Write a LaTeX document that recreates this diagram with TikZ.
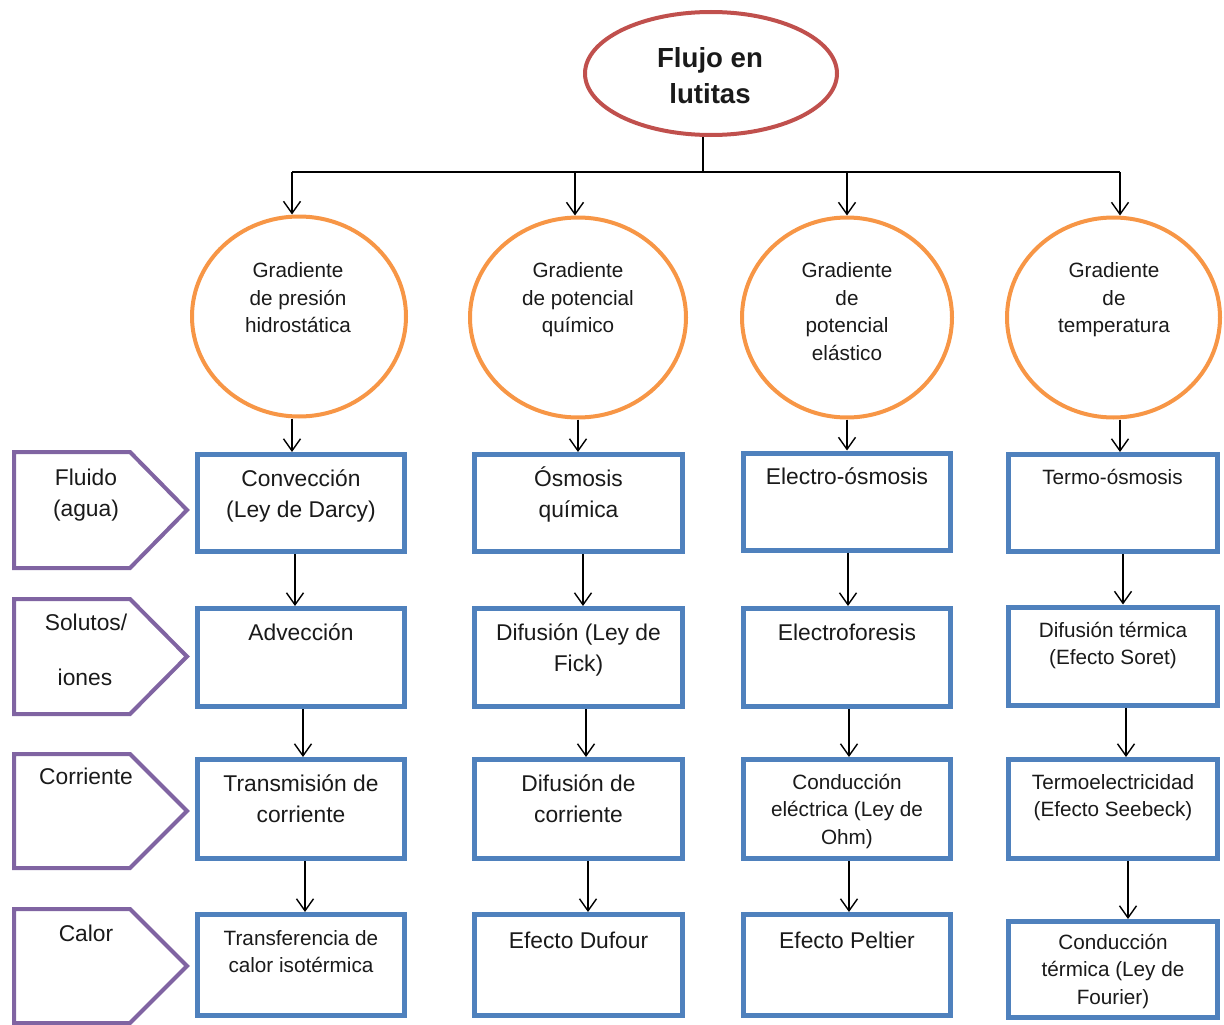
\documentclass[tikz,border=0pt]{standalone}
\usepackage{fontspec}
\setmainfont{Liberation Sans}
\usetikzlibrary{arrows.meta,shapes.geometric}
\definecolor{tred}{HTML}{C0504D}
\definecolor{torange}{HTML}{F79646}
\definecolor{tblue}{HTML}{4F81BD}
\definecolor{tpurple}{HTML}{8064A2}
\definecolor{ttext}{HTML}{1A1A1A}
\newcommand\vlink[3]{\draw[arr] ([xshift=#3]#1.south) -- ([xshift=#3]#1.south |- #2.north);}
\begin{document}
\begin{tikzpicture}[x=1pt,y=-1pt,
  conn/.style={line width=1.4pt, draw=black},
  arr/.style={conn, -{Straight Barb[length=12pt,width=17pt,line width=1.4pt]}},
  bx/.style={rectangle, draw=tblue, line width=5pt, inner sep=0pt, fill=white},
  grad/.style={ellipse, draw=torange, line width=4pt, inner sep=0pt, minimum height=200pt},
  lbl/.style={draw=tpurple, line width=4pt, line join=miter},
  txt/.style={inner sep=0pt, anchor=base, align=center, text=ttext},
  big/.style={txt, font=\fontsize{22.8}{31}\selectfont},
  small/.style={txt, font=\fontsize{20.7}{27.7}\selectfont},
  ttl/.style={txt, font=\fontsize{27.6}{36}\selectfont\bfseries}]
\useasboundingbox (0,0) rectangle (1224,1025);
% note: for multi-line texts the base anchor is the last line's baseline

% title
\node[ellipse, draw=tred, line width=4pt, inner sep=0pt, minimum width=252pt, minimum height=123pt] (title) at (711,73.5) {};
\node[ttl] (titlet) at (710,103) {Flujo en\\lutitas};

% gradient circles
\node[grad, minimum width=214pt] (g1) at (299,316.5) {};
\node[grad, minimum width=216pt] (g2) at (578,317.5) {};
\node[grad, minimum width=210pt] (g3) at (847,317.5) {};
\node[grad, minimum width=213pt] (g4) at (1113.5,317.5) {};
\node[small] (g1t) at (298,332.9) {Gradiente\\de presión\\hidrostática};
\node[small] (g2t) at (578,332.9) {Gradiente\\de potencial\\químico};
\node[small] (g3t) at (847,360.6) {Gradiente\\de\\potencial\\elástico};
\node[small] (g4t) at (1114,332.9) {Gradiente\\de\\temperatura};

% tree from title
\coordinate (jn) at (703,172);
\coordinate (h1) at (292,172);
\coordinate (h2) at (575,172);
\coordinate (h3) at (847,172);
\coordinate (h4) at (1120,172);
\draw[conn] (jn |- title.south) -- (jn);
\draw[conn] (h1) -- (h4);
\draw[arr] (h1) -- (h1 |- g1.north);
\draw[arr] (h2) -- (h2 |- g2.north);
\draw[arr] (h3) -- (h3 |- g3.north);
\draw[arr] (h4) -- (h4 |- g4.north);

% boxes row 1
\node[bx, minimum width=207pt, minimum height=97pt] (b11) at (301,503) {};
\node[bx, minimum width=208pt, minimum height=97pt] (b21) at (578.5,503) {};
\node[bx, minimum width=207pt, minimum height=97pt] (b31) at (847,501.5) {};
\node[bx, minimum width=209pt, minimum height=97pt] (b41) at (1113,503) {};
% row 2
\node[bx, minimum width=207pt, minimum height=98pt] (b12) at (301,657.5) {};
\node[bx, minimum width=208pt, minimum height=98pt] (b22) at (578.5,657.5) {};
\node[bx, minimum width=207pt, minimum height=98pt] (b32) at (847,657.5) {};
\node[bx, minimum width=209pt, minimum height=98pt] (b42) at (1113,656) {};
% row 3
\node[bx, minimum width=207pt, minimum height=99pt] (b13) at (301,809) {};
\node[bx, minimum width=208pt, minimum height=99pt] (b23) at (578.5,809) {};
\node[bx, minimum width=207pt, minimum height=99pt] (b33) at (847,809) {};
\node[bx, minimum width=209pt, minimum height=99pt] (b43) at (1113,809) {};
% row 4
\node[bx, minimum width=207pt, minimum height=101pt] (b14) at (301,965) {};
\node[bx, minimum width=208pt, minimum height=101pt] (b24) at (578.5,965) {};
\node[bx, minimum width=207pt, minimum height=101pt] (b34) at (847,965) {};
\node[bx, minimum width=209pt, minimum height=96pt] (b44) at (1113,969.5) {};

% box texts
\node[big]   (t11) at (301,517) {Convección\\(Ley de Darcy)};
\node[big]   (t21) at (578.5,517) {Ósmosis\\química};
\node[big]   (t31) at (847,484) {Electro-ósmosis};
\node[small] (t41) at (1112.5,484) {Termo-ósmosis};
\node[big]   (t12) at (301,640) {Advección};
\node[big]   (t22) at (578.5,671) {Difusión (Ley de\\Fick)};
\node[big]   (t32) at (847,640) {Electroforesis};
\node[small] (t42) at (1113,664.7) {Difusión térmica\\(Efecto Soret)};
\node[big]   (t13) at (301,822) {Transmisión de\\corriente};
\node[big]   (t23) at (578.5,822) {Difusión de\\corriente};
\node[small] (t33) at (847,844.4) {Conducción\\eléctrica (Ley de\\Ohm)};
\node[small] (t43) at (1113,816.7) {Termoelectricidad\\(Efecto Seebeck)};
\node[small] (t14) at (301,972.7) {Transferencia de\\calor isotérmica};
\node[big]   (t24) at (578.5,948) {Efecto Dufour};
\node[big]   (t34) at (847,948) {Efecto Peltier};
\node[small] (t44) at (1113,1004.4) {Conducción\\térmica (Ley de\\Fourier)};

% arrows circle -> box
\vlink{g1}{b11}{-7pt}
\vlink{g2}{b21}{0pt}
\vlink{g3}{b31}{0pt}
\vlink{g4}{b41}{6.5pt}
% arrows box -> box
\vlink{b11}{b12}{-6pt}
\vlink{b12}{b13}{2pt}
\vlink{b13}{b14}{4pt}
\vlink{b21}{b22}{4.5pt}
\vlink{b22}{b23}{7.5pt}
\vlink{b23}{b24}{9.5pt}
\vlink{b31}{b32}{1pt}
\vlink{b32}{b33}{2pt}
\vlink{b33}{b34}{2pt}
\vlink{b41}{b42}{10pt}
\vlink{b42}{b43}{13pt}
\vlink{b43}{b44}{15pt}

% side labels (pentagons)
\draw[lbl] (14,452) -- (130,452) -- (187,510) -- (130,568) -- (14,568) -- cycle;
\draw[lbl] (14,599) -- (130,599) -- (187,656.5) -- (130,714) -- (14,714) -- cycle;
\draw[lbl] (14,754) -- (130,754) -- (187,811) -- (130,868) -- (14,868) -- cycle;
\draw[lbl] (14,909) -- (130,909) -- (187,966) -- (130,1023) -- (14,1023) -- cycle;
\node[big] (l1) at (86,516) {Fluido\\(agua)};
\node[big] (l2a) at (86,630) {Solutos/};
\node[big] (l2b) at (85,685) {iones};
\node[big] (l3) at (86,784) {Corriente};
\node[big] (l4) at (86,941) {Calor};
\end{tikzpicture}
\end{document}
